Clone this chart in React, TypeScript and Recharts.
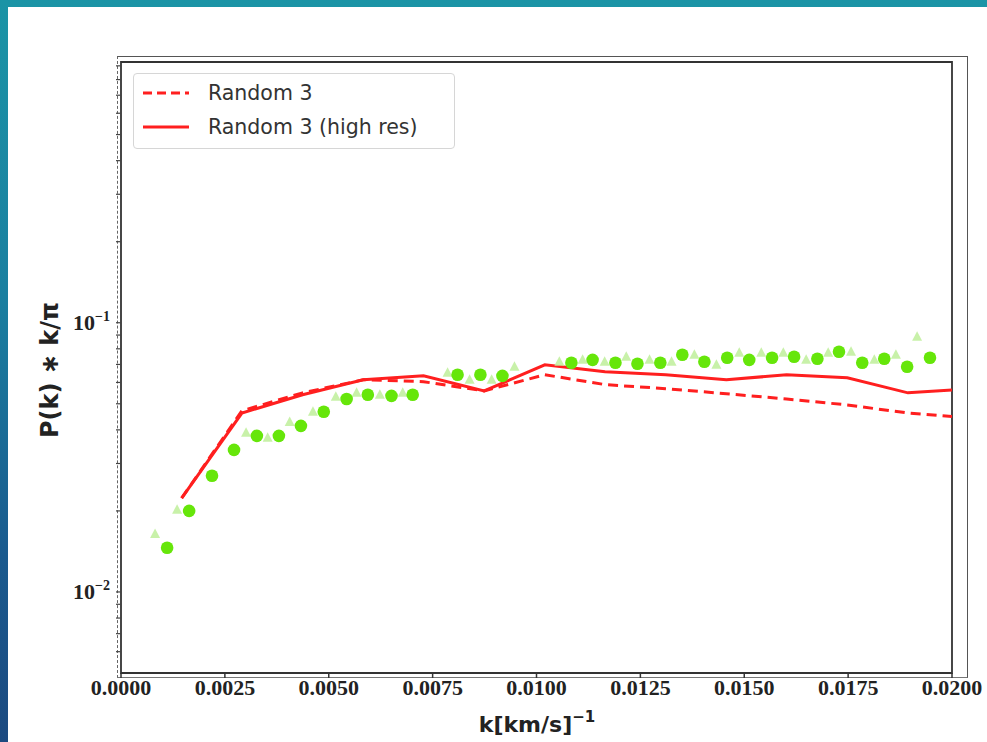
import React from 'react';
import { ComposedChart, Line, Scatter, XAxis, YAxis, ReferenceArea, Legend } from 'recharts';

// Model curves (Random 3 and its high-resolution rerun)
const kModel = [0.00146, 0.00291, 0.00437, 0.00583, 0.00728, 0.00874, 0.0102, 0.01165, 0.01311, 0.01457, 0.01602, 0.01748, 0.01894, 0.02];
const pRandom3 = [0.0223, 0.0471, 0.0549, 0.0614, 0.0604, 0.0558, 0.0641, 0.0589, 0.0569, 0.0545, 0.0521, 0.0495, 0.0462, 0.0448];
const pRandom3HighRes = [0.0223, 0.0462, 0.054, 0.0614, 0.0635, 0.0558, 0.0698, 0.0657, 0.0641, 0.0614, 0.0641, 0.0625, 0.0549, 0.0563];

// Observed points (bright green circles)
const kObsCircle = [0.00111, 0.00164, 0.00219, 0.00272, 0.00327, 0.0038, 0.00433, 0.00488, 0.00543, 0.00594, 0.00651, 0.00702, 0.0081, 0.00865, 0.00918, 0.01084, 0.01135, 0.0119, 0.01243, 0.01298, 0.01351, 0.01404, 0.01459, 0.01512, 0.01567, 0.0162, 0.01676, 0.01728, 0.01784, 0.01837, 0.01892, 0.01947];
const pObsCircle = [0.0146, 0.02, 0.027, 0.0337, 0.038, 0.038, 0.0414, 0.0467, 0.0521, 0.054, 0.0535, 0.054, 0.0641, 0.0641, 0.0635, 0.071, 0.0728, 0.071, 0.0704, 0.071, 0.076, 0.0716, 0.0741, 0.0728, 0.0741, 0.0748, 0.0735, 0.078, 0.071, 0.0735, 0.0686, 0.0741];

// Observed points (pale green triangles)
const kObsTriangle = [0.00082, 0.00135, 0.00301, 0.00353, 0.00406, 0.00462, 0.00517, 0.00567, 0.00623, 0.00678, 0.00786, 0.00839, 0.00892, 0.00947, 0.01055, 0.01111, 0.01164, 0.01216, 0.01272, 0.01325, 0.0138, 0.01433, 0.01488, 0.01541, 0.01594, 0.01649, 0.01702, 0.01757, 0.01813, 0.01865, 0.01916];
const pObsTriangle = [0.0164, 0.0202, 0.039, 0.0374, 0.0428, 0.0467, 0.0531, 0.0549, 0.054, 0.0549, 0.0652, 0.0614, 0.0614, 0.0686, 0.0716, 0.0728, 0.0716, 0.0748, 0.0728, 0.0716, 0.076, 0.0698, 0.0773, 0.0773, 0.0773, 0.0728, 0.0773, 0.078, 0.0728, 0.076, 0.0887];

const xTicks = [0, 0.0025, 0.005, 0.0075, 0.01, 0.0125, 0.015, 0.0175, 0.02];
const yMajorTicks = [0.01, 0.1];
const yMinorTicks = [0.006, 0.007, 0.008, 0.009, 0.02, 0.03, 0.04, 0.05, 0.06, 0.07, 0.08, 0.09, 0.2, 0.3, 0.4, 0.5, 0.6, 0.7, 0.8, 0.9];
const legendLabels = ['Random 3', 'Random 3 (high res)'];

const lowResData = kModel.map((k, i) => ({ k, p: pRandom3[i] }));
const highResData = kModel.map((k, i) => ({ k, p: pRandom3HighRes[i] }));
const circleData = kObsCircle.map((k, i) => ({ k, p: pObsCircle[i] }));
const triangleData = kObsTriangle.map((k, i) => ({ k, p: pObsTriangle[i] }));
const yAllTicks = [...yMinorTicks, ...yMajorTicks].sort((a, b) => a - b);

const RED = '#ff1f1f';
const TICK_FONT = 'Liberation Serif';

const YTick = (props: any) => {
  const { x, y, payload } = props;
  const v = payload.value;
  if (!yMajorTicks.includes(v)) return <g />;
  const exp = Math.round(Math.log10(v));
  return (
    <text x={x - 4} y={y + 7} textAnchor="end" fontFamily={TICK_FONT} fontWeight="bold" fontSize={22} fill="#222">
      10<tspan dy={-9} fontSize={14}>{`\u2212${-exp}`}</tspan>
    </text>
  );
};

const XTick = (props: any) => {
  const { x, y, payload } = props;
  return (
    <text x={x} y={y + 15} textAnchor="middle" fontFamily={TICK_FONT} fontWeight="bold" fontSize={22} fill="#222">
      {payload.value.toFixed(4)}
    </text>
  );
};

const CircleShape = (props: any) => <circle cx={props.cx} cy={props.cy} r={6.3} fill="#66e60a" />;
const TriangleShape = (props: any) => {
  const { cx, cy } = props;
  return <polygon points={`${cx},${cy - 5.5} ${cx - 5},${cy + 4} ${cx + 5},${cy + 4}`} fill="#c2f0a0" opacity={0.9} />;
};

const renderLegend = () => (
  <div style={{ position: 'relative', width: 322, height: 76, border: '1px solid #d6d6d6', borderRadius: 4, background: 'rgba(255,255,255,0.9)', boxSizing: 'border-box', fontFamily: 'DejaVu Sans', fontSize: 20.5, color: '#333' }}>
    {legendLabels.map((label, i) => (
      <div key={label} style={{ position: 'absolute', left: 0, top: i === 0 ? 6 : 40, height: 26, width: 320 }}>
        <svg width={60} height={26} style={{ position: 'absolute', left: 0, top: 0 }}>
          <line x1={9} x2={55} y1={13} y2={13} stroke={RED} strokeWidth={3} strokeDasharray={i === 0 ? '9 5' : undefined} />
        </svg>
        <span style={{ position: 'absolute', left: 74, top: 0, lineHeight: '26px', whiteSpace: 'nowrap' }}>{label}</span>
      </div>
    ))}
  </div>
);

const YLabel = () => (
  <text x={50} y={370} transform="rotate(-90 50 370)" textAnchor="middle" dominantBaseline="central" fontFamily="DejaVu Sans" fontWeight="bold" fontSize={24} fill="#222">
    P(k) ∗ k/π
  </text>
);

const XLabel = () => (
  <text x={537} y={732} textAnchor="middle" fontFamily="DejaVu Sans" fontWeight="bold" fontSize={22} fill="#222">
    k[km/s]<tspan dy={-10} fontSize={15}>{'\u22121'}</tspan>
  </text>
);

export default function App() {
  return (
    <div style={{ position: 'fixed', left: 0, top: 0, width: 987, height: 742, overflow: 'hidden', background: 'linear-gradient(to bottom, #1b94a6 0%, #1a7fa0 40%, #1a5a8e 75%, #1c4a80 100%)' }}>
      <div style={{ position: 'absolute', left: 8, top: 7, right: 0, bottom: 0, background: '#ffffff' }} />
      <div style={{ position: 'absolute', left: 117, top: 56, width: 851, height: 622, borderTop: '1.5px solid #555', borderRight: '1.5px solid #555', borderBottom: '1.5px solid #777', borderLeft: '1.5px dashed #666', boxSizing: 'border-box' }} />
      <div style={{ position: 'absolute', left: 0, top: 0 }}>
        <ComposedChart width={987} height={742} margin={{ top: 62, right: 0, bottom: 0, left: 0 }}>
          <XAxis
            type="number"
            dataKey="k"
            domain={[0, 0.02]}
            ticks={xTicks}
            allowDataOverflow
            height={69}
            tickSize={5}
            tickLine={{ stroke: '#333', strokeWidth: 1.5 }}
            axisLine={false}
            tick={<XTick />}
            interval={0}
            label={<XLabel />}
          />
          <YAxis
            yAxisId="left"
            scale="log"
            domain={[0.005, 0.93]}
            allowDataOverflow
            ticks={yAllTicks}
            width={121}
            tickSize={5}
            tickLine={{ stroke: '#444', strokeWidth: 1.2 }}
            axisLine={false}
            tick={<YTick />}
            interval={0}
            label={<YLabel />}
          />
          <YAxis
            yAxisId="right"
            orientation="right"
            scale="log"
            domain={[0.005, 0.93]}
            allowDataOverflow
            ticks={yAllTicks}
            width={35}
            tickSize={15}
            tickLine={{ stroke: '#888', strokeWidth: 1.2 }}
            axisLine={false}
            tick={false}
            interval={0}
          />
          <ReferenceArea yAxisId="left" x1={0} x2={0.02} y1={0.005} y2={0.93} fill="none" stroke="#333" strokeWidth={1.8} ifOverflow="visible" />
          <Scatter yAxisId="left" data={triangleData} dataKey="p" shape={<TriangleShape />} isAnimationActive={false} legendType="none" />
          <Scatter yAxisId="left" data={circleData} dataKey="p" shape={<CircleShape />} isAnimationActive={false} legendType="none" />
          <Line yAxisId="left" data={lowResData} dataKey="p" stroke={RED} strokeWidth={3} strokeDasharray="10 6" dot={false} isAnimationActive={false} name={legendLabels[0]} />
          <Line yAxisId="left" data={highResData} dataKey="p" stroke={RED} strokeWidth={3} dot={false} isAnimationActive={false} name={legendLabels[1]} />
          <Legend layout="horizontal" verticalAlign="middle" align="center" content={renderLegend} wrapperStyle={{ left: 133, top: 73, width: 322, height: 76 }} />
        </ComposedChart>
      </div>
    </div>
  );
}
